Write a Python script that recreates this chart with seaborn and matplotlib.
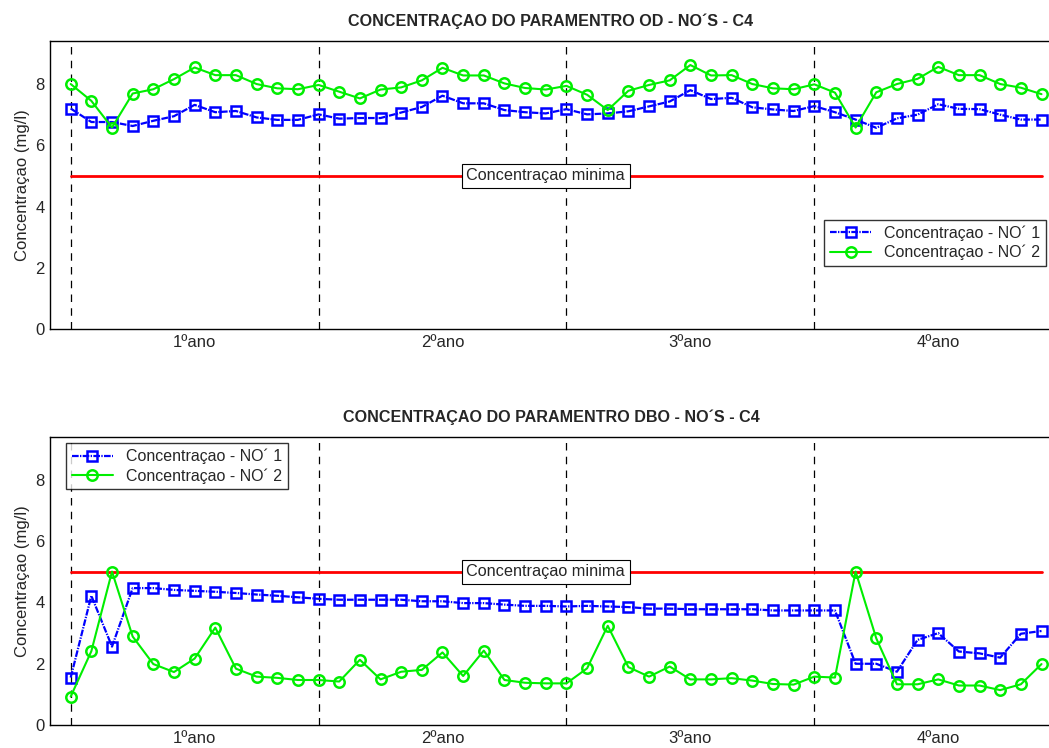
import numpy as np
import pandas as pd
import matplotlib
matplotlib.use("Agg")
import matplotlib.pyplot as plt
import seaborn as sns

# meses (48 amostras, 4 anos)
meses = list(range(48))
anos = ["1ºano", "2ºano", "3ºano", "4ºano"]
pos_anos = [6, 18, 30, 42]
divisoes = [0, 12, 24, 36]
limite = 5.0

od_no1 = [7.20, 6.76, 6.76, 6.63, 6.80, 6.95, 7.32, 7.08, 7.12, 6.91, 6.83, 6.83,
          7.01, 6.87, 6.89, 6.89, 7.07, 7.25, 7.62, 7.37, 7.37, 7.15, 7.08, 7.04,
          7.18, 7.01, 7.04, 7.11, 7.27, 7.43, 7.80, 7.51, 7.55, 7.24, 7.17, 7.12,
          7.28, 7.08, 6.84, 6.57, 6.88, 7.00, 7.34, 7.19, 7.18, 7.00, 6.84, 6.84]
od_no2 = [8.00, 7.45, 6.58, 7.69, 7.83, 8.16, 8.54, 8.29, 8.29, 8.00, 7.86, 7.83,
          7.97, 7.75, 7.53, 7.82, 7.89, 8.12, 8.53, 8.28, 8.28, 8.02, 7.87, 7.82,
          7.94, 7.65, 7.15, 7.78, 7.97, 8.12, 8.62, 8.28, 8.29, 8.00, 7.86, 7.83,
          7.99, 7.72, 6.58, 7.73, 8.00, 8.17, 8.56, 8.29, 8.29, 8.00, 7.88, 7.67]

dbo_no1 = [1.55, 4.22, 2.56, 4.47, 4.47, 4.41, 4.38, 4.35, 4.31, 4.26, 4.22, 4.17,
           4.12, 4.09, 4.09, 4.09, 4.09, 4.04, 4.04, 3.98, 3.98, 3.93, 3.89, 3.89,
           3.87, 3.89, 3.87, 3.85, 3.80, 3.80, 3.78, 3.78, 3.78, 3.78, 3.74, 3.74,
           3.74, 3.74, 2.00, 2.00, 1.74, 2.78, 3.00, 2.40, 2.34, 2.20, 2.98, 3.07]
dbo_no2 = [0.93, 2.41, 5.01, 2.89, 1.99, 1.73, 2.17, 3.18, 1.84, 1.58, 1.54, 1.47,
           1.47, 1.42, 2.13, 1.49, 1.74, 1.80, 2.37, 1.60, 2.43, 1.47, 1.38, 1.36,
           1.36, 1.85, 3.24, 1.89, 1.58, 1.91, 1.49, 1.49, 1.53, 1.45, 1.34, 1.32,
           1.58, 1.55, 5.01, 2.83, 1.33, 1.33, 1.49, 1.29, 1.29, 1.14, 1.33, 1.99]

sns.set_style("white")
plt.rcParams['font.family'] = ['Liberation Sans', 'DejaVu Sans']

fig = plt.figure(figsize=(10.49, 7.48), dpi=100)
ax1 = fig.add_axes([0.0477, 0.560, 0.955, 0.385])
ax2 = fig.add_axes([0.0477, 0.0307, 0.955, 0.385])


def graficar(ax, no1, no2, titulo, loc, anchor):
    for d in divisoes:
        ax.axvline(d, color='black', linestyle=(0, (6, 5)), linewidth=0.9, zorder=1)
    ax.plot([meses[0], meses[-1]], [limite, limite], color='red', linewidth=2, zorder=2)
    ax.text(23, limite, "Concentraçao minima", ha='center', va='center', fontsize=11.7,
            bbox=dict(boxstyle='square,pad=0.28', fc='white', ec='black', lw=0.8), zorder=5)
    sns.lineplot(x=meses, y=no1, ax=ax, color='blue', marker='s', markersize=7.5,
                 mfc='none', mec='blue', mew=1.8, linewidth=1.6,
                 linestyle=(0, (3, 0.6, 0.6, 0.6)),
                 label="Concentraçao - NO´ 1", zorder=3)
    sns.lineplot(x=meses, y=no2, ax=ax, color='#00ee00', marker='o', markersize=7.5,
                 mfc='none', mec='#00ee00', mew=1.8, linewidth=1.5,
                 label="Concentraçao - NO´ 2", zorder=4)
    ax.set_xlim(-1, 47.5)
    ax.set_ylim(0, 9.4)
    ax.set_yticks([0, 2, 4, 6, 8])
    ax.set_xticks(pos_anos)
    ax.set_xticklabels(anos)
    ax.tick_params(axis='y', direction='in', length=5, labelsize=12, pad=4)
    ax.tick_params(axis='x', length=0, labelsize=12, pad=4)
    ax.set_ylabel("Concentraçao (mg/l)", fontsize=12, labelpad=4)
    ax.set_title(titulo, fontsize=11.6, fontweight='bold', pad=11)
    for s in ax.spines.values():
        s.set_color('black')
        s.set_linewidth(1.0)
    leg = ax.legend(loc=loc, bbox_to_anchor=anchor, fontsize=11.5, frameon=True,
                    fancybox=False, edgecolor='black', borderpad=0.35,
                    handlelength=2.6, labelspacing=0.25, borderaxespad=0)
    leg.get_frame().set_linewidth(1.0)


graficar(ax1, od_no1, od_no2, "CONCENTRAÇAO DO PARAMENTRO OD - NO´S - C4",
         'lower right', (0.994, 0.219))
graficar(ax2, dbo_no1, dbo_no2, "CONCENTRAÇAO DO PARAMENTRO DBO - NO´S - C4",
         'upper left', (0.016, 0.979))

fig.savefig("out.png", dpi=100)
